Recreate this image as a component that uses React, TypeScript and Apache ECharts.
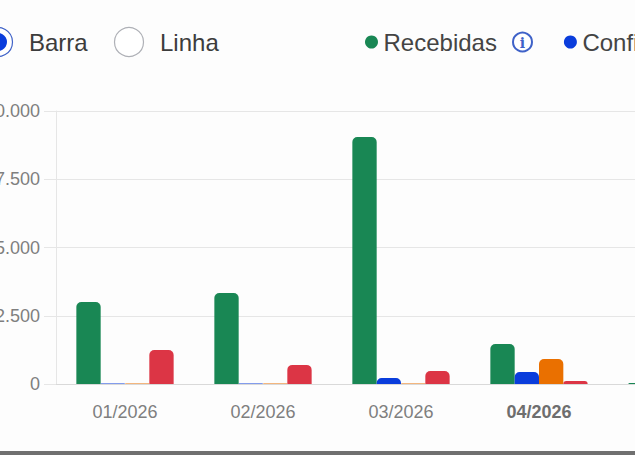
import React, { useEffect, useRef } from "react";
import * as echarts from "echarts";

const categories = ["01/2026", "02/2026", "03/2026", "04/2026", "05/2026"];
const boldCategory = "04/2026";
const recebidas = [3004, 3333, 9048, 1465, 40];
const confirmadas = [15, 15, 220, 440, 0];
const terceira = [15, 15, 15, 915, 0];
const quarta = [1245, 700, 475, 110, 0];
const legendNames = ["Recebidas", "Confirmadas"];
const radioLabels = ["Barra", "Linha"];

const OFFSET = 100;
const FONT = '"Liberation Sans", Arial, sans-serif';

export default function App() {
  const ref = useRef<HTMLDivElement>(null);
  useEffect(() => {
    document.body.style.margin = "0";
    document.body.style.overflow = "hidden";
    document.body.style.background = "#fdfdfd";
    const chart = echarts.init(ref.current!, undefined, { renderer: "svg" });
    const bar = (name: string, data: number[], color: string) => ({
      name,
      type: "bar" as const,
      data,
      barGap: 0,
      barCategoryGap: "29.5%",
      itemStyle: { color, borderRadius: [5, 5, 0, 0] },
    });
    chart.setOption({
      animation: false,
      backgroundColor: "#fdfdfd",
      textStyle: { fontFamily: FONT },
      grid: { left: OFFSET + 56, top: 111, width: 138 * categories.length, height: 273, containLabel: false },
      legend: {
        data: legendNames,
        left: OFFSET + 360,
        top: 25,
        icon: "circle",
        itemWidth: 14,
        itemHeight: 13,
        itemGap: 67,
        selectedMode: false,
        textStyle: { fontFamily: FONT, fontSize: 24, color: "#444444" },
      },
      xAxis: {
        type: "category",
        data: categories,
        axisTick: { show: false },
        axisLine: { lineStyle: { color: "#d9d9d9" } },
        axisLabel: {
          margin: 19,
          fontFamily: FONT,
          fontSize: 18,
          color: "#7f7f7f",
          formatter: (v: string) => (v === boldCategory ? `{b|${v}}` : v),
          rich: { b: { fontWeight: "bold", fontSize: 18, color: "#6e6e6e", fontFamily: FONT } },
        },
      },
      yAxis: {
        type: "value",
        min: 0,
        max: 10000,
        interval: 2500,
        axisLine: { show: true, lineStyle: { color: "#e6e6e6" } },
        axisTick: { show: true, length: 12, lineStyle: { color: "#e6e6e6" } },
        splitLine: { lineStyle: { color: "#e6e6e6" } },
        axisLabel: {
          margin: 16,
          fontFamily: FONT,
          fontSize: 18,
          color: "#7f7f7f",
          formatter: (v: number) => String(v).replace(/\B(?=(\d{3})+$)/g, "."),
        },
      },
      series: [
        bar("Recebidas", recebidas, "#198754"),
        bar("Confirmadas", confirmadas, "#0a3ddc"),
        bar("Série 3", terceira, "#ea7000"),
        bar("Série 4", quarta, "#dc3545"),
      ],
      graphic: [
        { type: "circle", shape: { cx: OFFSET - 2, cy: 42, r: 14.5 }, style: { fill: "#fff", stroke: "#3f62c8", lineWidth: 1.2 } },
        { type: "circle", shape: { cx: OFFSET - 2, cy: 42, r: 9 }, style: { fill: "#0a3ddc" } },
        { type: "text", x: OFFSET + 29, y: 42, style: { text: radioLabels[0], fontFamily: FONT, fontSize: 24, fill: "#3c3c3c", verticalAlign: "middle" } },
        { type: "circle", shape: { cx: OFFSET + 129, cy: 42, r: 14.5 }, style: { fill: "#fff", stroke: "#aeb0b6", lineWidth: 1.2 } },
        { type: "text", x: OFFSET + 160, y: 42, style: { text: radioLabels[1], fontFamily: FONT, fontSize: 24, fill: "#3c3c3c", verticalAlign: "middle" } },
        { type: "circle", shape: { cx: OFFSET + 522.5, cy: 42, r: 9.5 }, style: { fill: "#fff", stroke: "#3f62c8", lineWidth: 2 } },
        { type: "text", x: OFFSET + 522.5, y: 42.5, style: { text: "i", fontFamily: '"DejaVu Serif", serif', fontWeight: "bold", fontSize: 14, fill: "#3f62c8", align: "center", verticalAlign: "middle" } },
        { type: "rect", shape: { x: 0, y: 451, width: 1100, height: 4 }, style: { fill: "#707070" } },
      ],
    });
    return () => chart.dispose();
  }, []);
  return <div ref={ref} style={{ position: "fixed", left: -OFFSET, top: 0, width: 1100, height: 455 }} />;
}
